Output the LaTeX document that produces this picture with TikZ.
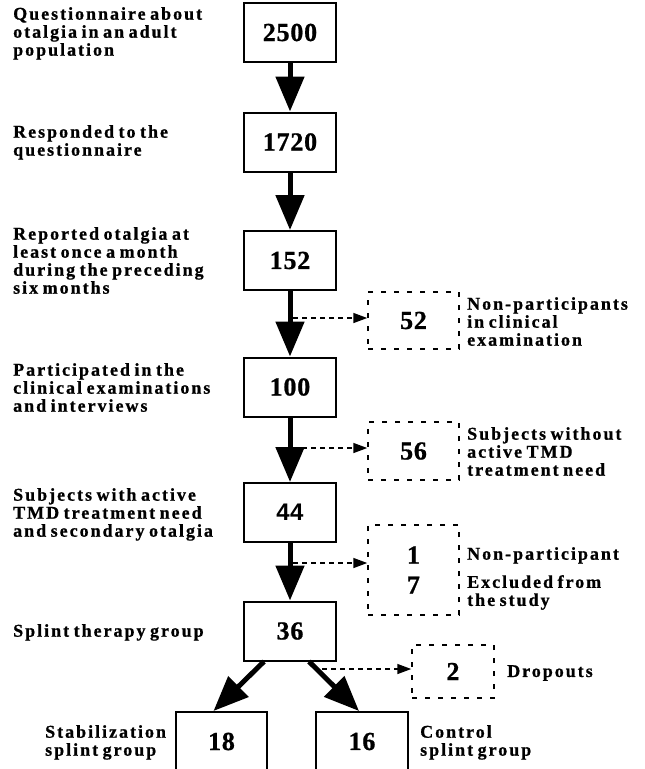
\documentclass[tikz,border=0pt]{standalone}
\usepackage{fontspec}
\setmainfont{Liberation Serif}
\newfontfamily\lblfont{Liberation Serif}[LetterSpace=11,WordSpace=0.7,BoldFeatures={FakeBold=0.8}]
\newfontfamily\numfont{Liberation Serif}[LetterSpace=3,BoldFeatures={FakeBold=0.8}]
\newfontfamily\numsans{Liberation Sans}[LetterSpace=2]
\usetikzlibrary{arrows.meta,positioning,calc}
\begin{document}
\begin{tikzpicture}[x=1pt,y=-1pt,
  numbox/.style={draw,line width=2pt,minimum width=92pt,minimum height=59pt,inner sep=0pt,
    font={\numfont\bfseries\fontsize{26}{26}\selectfont}},
  dashbox/.style={numbox,line width=1.5pt,dash pattern=on 5pt off 8pt},
  lbl/.style={font={\lblfont\bfseries\fontsize{18}{18}\selectfont},align=left,inner sep=0pt,anchor=north west},
  mainarr/.style={line width=5pt,-{Triangle[width=28pt,length=35pt]}},
  sidearr/.style={line width=1.5pt,dash pattern=on 5pt off 4pt,-{Triangle[width=10pt,length=14pt]}}]
\useasboundingbox (0,0) rectangle (645,769);
\node[numbox] (b2500) at (290,32.5) {2500};
\node[numbox] (b1720) at (290,142) {1720};
\node[numbox] (b152) at (290,260.5) {152};
\node[numbox] (b100) at (290,387) {100};
\node[numbox,font={\numsans\bfseries\fontsize{24}{24}\selectfont}] (b44) at (290,512.5) {44};
\node[numbox] (b36) at (290,631) {36};
\node[numbox,minimum width=91pt] (b18) at (221.5,741.5) {18};
\node[numbox] (b16) at (362,741.5) {16};
\node[dashbox,minimum width=91pt,minimum height=57pt] (d52) at (413.5,320.5) {52};
\node[dashbox,minimum width=91pt,minimum height=58pt] (d56) at (413.5,451) {56};
\node[dashbox,minimum width=91pt,minimum height=90pt,align=center,
  font={\numfont\bfseries\fontsize{26}{30}\selectfont}] (d17) at (413.5,570) {1\\7};
\node[dashbox,minimum width=82pt,minimum height=53pt] (d2) at (453,671.5) {2};
\draw[mainarr] (b2500) -- (b1720);
\draw[mainarr] (b1720) -- (b152);
\draw[mainarr] (b152) -- (b100);
\draw[mainarr] (b100) -- (b44);
\draw[mainarr] (b44) -- (b36);
\draw[mainarr] ([xshift=-26pt]b36.south) -- ([xshift=-8pt]b18.north);
\draw[mainarr] ([xshift=19pt]b36.south) -- ([xshift=-3pt]b16.north);
\coordinate (c52) at (293,318);
\coordinate (c56) at (293,448);
\coordinate (c17) at (293,563);
\coordinate (c2) at (322,669);
\draw[sidearr] (c52) -- (c52 -| d52.west);
\draw[sidearr] (c56) -- (c56 -| d56.west);
\draw[sidearr] (c17) -- (c17 -| d17.west);
\draw[sidearr] (c2) -- (c2 -| d2.west);
\node[lbl] (tq) at (13,7) {Questionnaire about\\otalgia in an adult\\population};
\node[lbl] (tr) at (13,125) {Responded to the\\questionnaire};
\node[lbl] (to) at (13,227) {Reported otalgia at\\least once a month\\during the preceding\\six months};
\node[lbl] (tp) at (13,363) {Participated in the\\clinical examinations\\and interviews};
\node[lbl] (ts) at (13,488) {Subjects with active\\TMD treatment need\\and secondary otalgia};
\node[lbl] (tt) at (13,624) {Splint therapy group};
\node[lbl] (tstab) at (45,725) {Stabilization\\splint group};
\node[lbl] (tctrl) at (420,725) {Control\\splint group};
\node[lbl] (tn52) at (467,297) {Non-participants\\in clinical\\examination};
\node[lbl] (tn56) at (467,427) {Subjects without\\active TMD\\treatment need};
\node[lbl] (tn1) at (467,547) {Non-participant};
\node[lbl] (tn7) at (467,575) {Excluded from\\the study};
\node[lbl] (tn2) at (507,665) {Dropouts};
\end{tikzpicture}
\end{document}
